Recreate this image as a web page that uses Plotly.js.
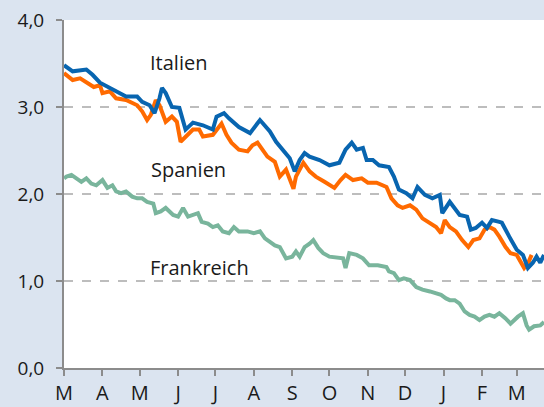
<!DOCTYPE html>
<html>
<head>
<meta charset="utf-8">
<script src="https://cdn.plot.ly/plotly-3.0.1.min.js"></script>
<style>html,body{margin:0;padding:0;background:#dbe4f0;}</style>
</head>
<body>
<div id="chart" style="width:544px;height:407px;"></div>
<script>
// Monthly tick positions and labels
const monthTicks = ['2014-03-01','2014-04-01','2014-05-01','2014-06-01','2014-07-01','2014-08-01','2014-09-01','2014-10-01','2014-11-01','2014-12-01','2015-01-01','2015-02-01','2015-03-01'];
const monthLabels = ['M','A','M','J','J','A','S','O','N','D','J','F','M'];

// Italien
const italyDates = ['2014-03-01','2014-03-08','2014-03-19','2014-03-24','2014-03-30','2014-04-07','2014-04-12','2014-04-20','2014-04-29','2014-05-03','2014-05-09','2014-05-13','2014-05-17','2014-05-19','2014-05-22','2014-05-27','2014-06-02','2014-06-05','2014-06-07','2014-06-13','2014-06-21','2014-06-29','2014-07-02','2014-07-08','2014-07-12','2014-07-20','2014-07-29','2014-08-06','2014-08-14','2014-08-19','2014-08-26','2014-08-30','2014-09-03','2014-09-07','2014-09-11','2014-09-15','2014-09-23','2014-10-01','2014-10-09','2014-10-14','2014-10-19','2014-10-23','2014-10-28','2014-10-31','2014-11-05','2014-11-10','2014-11-18','2014-11-22','2014-11-26','2014-12-02','2014-12-07','2014-12-11','2014-12-17','2014-12-23','2014-12-29','2014-12-31','2015-01-06','2015-01-14','2015-01-20','2015-01-23','2015-01-27','2015-02-01','2015-02-05','2015-02-09','2015-02-15','2015-02-17','2015-02-23','2015-03-01','2015-03-06','2015-03-10','2015-03-14','2015-03-17','2015-03-20','2015-03-23'];
const italyValues = [3.48,3.41,3.43,3.37,3.28,3.22,3.18,3.12,3.12,3.06,3.02,2.93,3.10,3.22,3.16,3.00,2.99,2.83,2.74,2.82,2.79,2.74,2.89,2.93,2.87,2.77,2.70,2.85,2.72,2.60,2.47,2.41,2.26,2.39,2.47,2.43,2.39,2.33,2.36,2.51,2.59,2.51,2.53,2.39,2.39,2.33,2.31,2.20,2.05,2.01,1.95,2.08,1.99,1.95,1.99,1.78,1.91,1.76,1.74,1.59,1.61,1.67,1.61,1.70,1.68,1.67,1.51,1.36,1.30,1.15,1.21,1.28,1.21,1.30];

// Spanien
const spainDates = ['2014-03-01','2014-03-08','2014-03-14','2014-03-19','2014-03-25','2014-03-30','2014-04-01','2014-04-07','2014-04-12','2014-04-20','2014-04-29','2014-05-03','2014-05-07','2014-05-10','2014-05-14','2014-05-17','2014-05-22','2014-05-27','2014-05-31','2014-06-03','2014-06-07','2014-06-13','2014-06-18','2014-06-21','2014-06-29','2014-07-06','2014-07-10','2014-07-14','2014-07-20','2014-07-27','2014-07-31','2014-08-04','2014-08-08','2014-08-12','2014-08-18','2014-08-22','2014-08-27','2014-09-02','2014-09-04','2014-09-10','2014-09-15','2014-09-20','2014-09-27','2014-10-05','2014-10-10','2014-10-14','2014-10-20','2014-10-27','2014-11-01','2014-11-08','2014-11-16','2014-11-20','2014-11-25','2014-11-29','2014-12-05','2014-12-10','2014-12-15','2014-12-21','2014-12-26','2014-12-30','2015-01-02','2015-01-06','2015-01-11','2015-01-16','2015-01-21','2015-01-25','2015-01-30','2015-02-03','2015-02-07','2015-02-11','2015-02-15','2015-02-20','2015-02-24','2015-03-01','2015-03-05','2015-03-07','2015-03-10','2015-03-13'];
const spainValues = [3.39,3.31,3.33,3.29,3.23,3.25,3.16,3.18,3.10,3.08,3.02,2.95,2.85,2.91,3.08,3.02,2.83,2.89,2.83,2.60,2.66,2.74,2.74,2.66,2.68,2.81,2.68,2.59,2.51,2.49,2.56,2.59,2.51,2.43,2.37,2.20,2.28,2.06,2.20,2.36,2.26,2.20,2.14,2.07,2.16,2.22,2.16,2.18,2.13,2.13,2.08,1.95,1.87,1.84,1.87,1.82,1.72,1.66,1.62,1.55,1.70,1.62,1.57,1.47,1.39,1.47,1.49,1.59,1.62,1.59,1.51,1.39,1.32,1.30,1.20,1.15,1.20,1.30];

// Frankreich
const franceDates = ['2014-03-01','2014-03-03','2014-03-07','2014-03-11','2014-03-15','2014-03-19','2014-03-23','2014-03-27','2014-04-01','2014-04-05','2014-04-09','2014-04-12','2014-04-16','2014-04-20','2014-04-25','2014-04-29','2014-05-03','2014-05-07','2014-05-12','2014-05-14','2014-05-18','2014-05-22','2014-05-28','2014-06-01','2014-06-05','2014-06-09','2014-06-13','2014-06-17','2014-06-20','2014-06-25','2014-06-29','2014-07-03','2014-07-07','2014-07-12','2014-07-16','2014-07-20','2014-07-27','2014-08-01','2014-08-06','2014-08-10','2014-08-14','2014-08-18','2014-08-22','2014-08-27','2014-09-01','2014-09-04','2014-09-07','2014-09-11','2014-09-15','2014-09-18','2014-09-22','2014-09-26','2014-10-01','2014-10-08','2014-10-12','2014-10-14','2014-10-17','2014-10-23','2014-10-28','2014-11-02','2014-11-09','2014-11-16','2014-11-18','2014-11-22','2014-11-26','2014-11-30','2014-12-05','2014-12-10','2014-12-15','2014-12-21','2014-12-26','2014-12-30','2015-01-03','2015-01-06','2015-01-10','2015-01-14','2015-01-18','2015-01-22','2015-01-26','2015-01-30','2015-02-03','2015-02-07','2015-02-11','2015-02-15','2015-02-20','2015-02-24','2015-03-02','2015-03-06','2015-03-09','2015-03-11','2015-03-15','2015-03-20','2015-03-23'];
const franceValues = [2.18,2.20,2.22,2.18,2.14,2.18,2.12,2.10,2.16,2.07,2.10,2.03,2.01,2.03,1.97,1.95,1.95,1.91,1.89,1.78,1.80,1.84,1.76,1.74,1.84,1.74,1.76,1.78,1.68,1.66,1.62,1.64,1.57,1.55,1.62,1.57,1.57,1.55,1.57,1.49,1.45,1.41,1.39,1.26,1.28,1.34,1.28,1.39,1.43,1.47,1.38,1.32,1.28,1.26,1.26,1.15,1.32,1.30,1.26,1.18,1.18,1.16,1.11,1.09,1.01,1.03,1.01,0.93,0.90,0.88,0.86,0.84,0.80,0.78,0.78,0.74,0.65,0.61,0.59,0.55,0.59,0.61,0.59,0.63,0.57,0.51,0.59,0.63,0.49,0.44,0.48,0.49,0.53];

const seriesNames = ['Italien','Spanien','Frankreich'];
const lineStyle = {width: 4};

const traces = [
  {x: franceDates, y: franceValues, name: seriesNames[2], line: Object.assign({color: '#79b59c'}, lineStyle)},
  {x: spainDates, y: spainValues, name: seriesNames[1], line: Object.assign({color: '#ff6a00'}, lineStyle)},
  {x: italyDates, y: italyValues, name: seriesNames[0], line: Object.assign({color: '#0865b0'}, lineStyle)}
].map(t => Object.assign({type: 'scatter', mode: 'lines', hoverinfo: 'skip'}, t));

const fontFam = 'Open Sans, Noto Sans, sans-serif';
const labelFont = {size: 20, family: fontFam, color: '#1a1a1a'};

const layout = {
  width: 544, height: 407,
  margin: {l: 64, r: 0, t: 20, b: 39, pad: 0},
  paper_bgcolor: '#dbe4f0',
  plot_bgcolor: '#ffffff',
  showlegend: false,
  separators: ',.',
  font: {family: fontFam, color: '#1a1a1a', size: 19},
  xaxis: {
    type: 'date',
    range: ['2014-03-01', '2015-03-23'],
    tickmode: 'array',
    tickvals: monthTicks,
    ticktext: monthLabels,
    ticks: 'outside', ticklen: 6, tickwidth: 2, tickcolor: '#8c8c8c',
    ticklabelstandoff: 0,
    showline: true, linecolor: '#8c8c8c', linewidth: 2,
    showgrid: false, zeroline: false,
    tickfont: {size: 20, family: fontFam, color: '#1a1a1a'}
  },
  yaxis: {
    range: [0, 4],
    tickmode: 'array',
    tickvals: [0, 1, 2, 3, 4],
    tickformat: '.1f',
    ticks: 'outside', ticklen: 6, tickwidth: 2, tickcolor: '#8c8c8c',
    ticklabelstandoff: 8,
    showline: true, linecolor: '#8c8c8c', linewidth: 2,
    showgrid: true, gridcolor: '#bdbdbd', gridwidth: 1.5, griddash: 'dash',
    zeroline: false,
    tickfont: {size: 19, family: fontFam, color: '#1a1a1a'}
  },
  annotations: [
    {text: seriesNames[0], xref: 'paper', yref: 'paper', x: 0.2375, y: 0.879, xanchor: 'center', yanchor: 'middle', showarrow: false, font: labelFont},
    {text: seriesNames[1], xref: 'paper', yref: 'paper', x: 0.26, y: 0.569, xanchor: 'center', yanchor: 'middle', showarrow: false, font: labelFont},
    {text: seriesNames[2], xref: 'paper', yref: 'paper', x: 0.283, y: 0.29, xanchor: 'center', yanchor: 'middle', showarrow: false, font: labelFont}
  ]
};

Plotly.newPlot('chart', traces, layout, {staticPlot: true, displayModeBar: false});
</script>
</body>
</html>
